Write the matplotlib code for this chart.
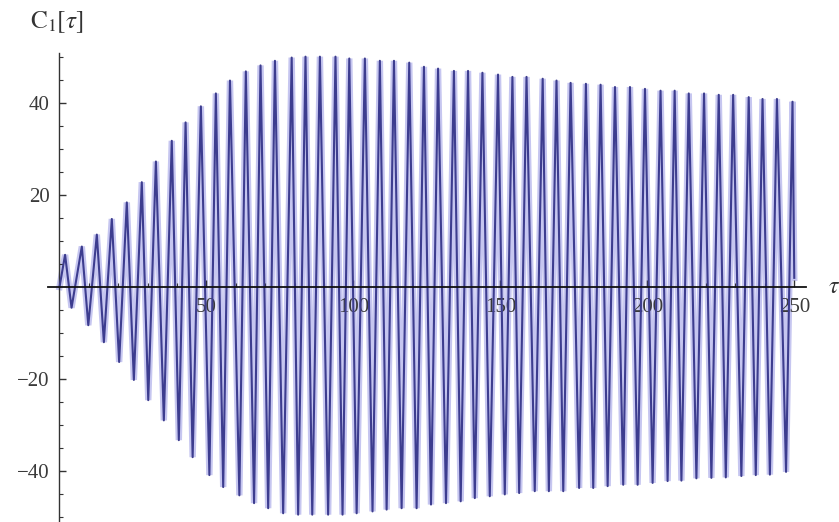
#plot of C1 against tau, oscillation that grows then slowly dies down

import matplotlib.pyplot as plt
import numpy

#times and heights of the maxima
peak_t = [1.9, 7.6, 12.7, 17.8, 22.9, 28.0, 32.8, 38.2, 42.9, 48.1,
          53.2, 58.0, 63.4, 68.4, 73.3, 79.0, 83.7, 88.6, 93.9, 98.6,
          103.9, 109.0, 113.8, 119.0, 124.0, 128.8, 134.2, 139.0, 143.9, 149.2,
          154.1, 158.9, 164.4, 169.1, 173.9, 179.1, 184.1, 189.0, 194.1, 199.2,
          204.5, 209.3, 214.1, 219.3, 224.3, 229.2, 234.5, 239.2, 244.1, 249.4]
peak_c = [7.0, 8.8, 11.4, 14.8, 18.4, 22.8, 27.3, 31.8, 35.8, 39.3,
          42.1, 44.9, 46.9, 48.2, 49.2, 49.9, 50.1, 50.1, 50.1, 49.7,
          49.7, 49.2, 49.2, 48.8, 47.9, 47.5, 47.0, 47.0, 46.6, 46.2,
          45.7, 45.7, 45.3, 44.9, 44.4, 44.2, 44.0, 43.5, 43.5, 43.1,
          42.7, 42.7, 42.1, 42.1, 41.8, 41.8, 41.3, 40.9, 40.9, 40.3]

#times and depths of the minima
trough_t = [4.1, 9.8, 15.1, 20.3, 25.3, 30.2, 35.5, 40.6, 45.3, 51.0,
            55.7, 61.2, 66.2, 71.0, 76.1, 81.2, 86.0, 91.4, 96.3, 101.1,
            106.5, 111.3, 116.4, 121.5, 126.4, 131.5, 136.5, 141.3, 146.4, 151.5,
            156.4, 161.7, 166.5, 171.4, 176.8, 181.6, 186.5, 191.8, 196.7, 201.8,
            206.9, 211.6, 216.7, 221.8, 226.7, 232.0, 236.9, 241.7, 247.2]
trough_c = [-4.5, -8.3, -12.0, -16.3, -20.2, -24.6, -29.0, -33.3, -37.0, -40.9,
            -43.5, -45.3, -47.0, -48.1, -49.2, -49.5, -49.5, -49.5, -49.5, -49.2,
            -48.8, -48.4, -48.1, -48.1, -47.3, -47.0, -46.6, -45.9, -45.5, -45.1,
            -44.8, -44.4, -44.4, -44.4, -43.7, -43.7, -43.3, -43.0, -43.0, -42.6,
            -42.2, -42.1, -41.6, -41.5, -41.4, -41.1, -40.9, -40.8, -40.2]

#first and last sample
start = (0.0, 0.0)
end = (250.0, 2.0)

#put maxima and minima in time order
t = [start[0]]
c = [start[1]]
for i in range(len(peak_t)):
    t.append(peak_t[i])
    c.append(peak_c[i])
    if i < len(trough_t):
        t.append(trough_t[i])
        c.append(trough_c[i])
t.append(end[0])
c.append(end[1])
t = numpy.array(t)
c = numpy.array(c)

plt.rcParams['mathtext.fontset'] = 'stix'

fig = plt.figure(figsize=(8.39, 5.22), dpi=100)
ax = fig.add_axes([0.0569, 0.0, 0.9038, 0.8985])

#light band under everything, then the curve on top of the tick labels
ax.plot(t, c, color='#c6c6f0', linewidth=4.6, solid_joinstyle='miter', zorder=1)
ax.plot(t, c, color='#3d3d8f', linewidth=1.5, zorder=3)

ax.set_xlim(-4, 254)
ax.set_ylim(-51.1, 50.9)

#axes cross at the origin
for side in ['top', 'right']:
    ax.spines[side].set_visible(False)
ax.spines['left'].set_position(('data', 0))
ax.spines['bottom'].set_position(('data', 0))
ax.spines['bottom'].set_zorder(4)
ax.spines['left'].set_linewidth(1.0)
ax.spines['bottom'].set_linewidth(1.3)
ax.spines['left'].set_color('#333333')
ax.spines['bottom'].set_color('#111111')

ax.set_xticks([50, 100, 150, 200, 250])
ax.set_xticks(numpy.arange(10, 251, 10), minor=True)
ax.set_yticks([-40, -20, 20, 40])
ax.set_yticks([-50, -45, -35, -30, -25, -15, -10, -5, 5, 10, 15, 25, 30, 35, 45, 50], minor=True)
ax.tick_params(which='both', direction='in', colors='#333333', labelsize=15)
ax.tick_params(which='major', length=5, width=1)
ax.tick_params(which='minor', length=3, width=0.8)
ax.tick_params(axis='x', pad=8)
ax.tick_params(axis='y', pad=7)
ax.xaxis.set_zorder(2)
ax.yaxis.set_zorder(2)
ax.set_yticklabels(['\u221240', '\u221220', '20', '40'])
for lab in ax.get_xticklabels() + ax.get_yticklabels():
    lab.set_family('Liberation Serif')
    lab.set_color('#3a3a3a')

#axis names
fig.text(0.068, 0.958, r'$\mathrm{C}_1[\tau]$', fontsize=18, ha='center', va='center', color='#333333')
fig.text(0.987, 0.452, r'$\tau$', fontsize=17, ha='left', va='center', color='#333333')

fig.savefig("out.png", dpi=100)
